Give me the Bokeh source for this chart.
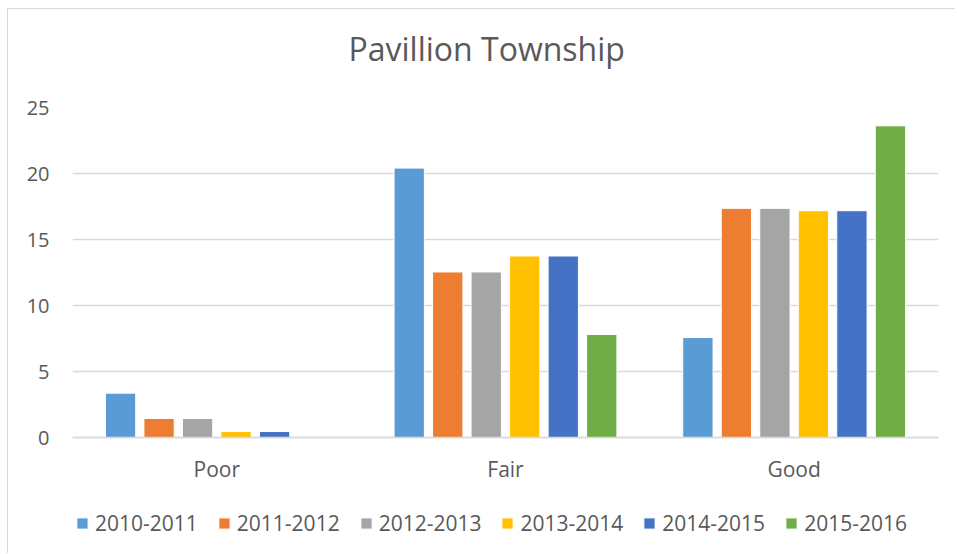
from bokeh.plotting import figure
from bokeh.models import FactorRange, Range1d, FixedTicker, Title
from bokeh.transform import dodge
from bokeh.embed import file_html
from bokeh.resources import INLINE

categories = ["Poor", "Fair", "Good"]
years = ["2010-2011", "2011-2012", "2012-2013", "2013-2014", "2014-2015", "2015-2016"]
s2010_2011 = [3.36, 20.41, 7.57]
s2011_2012 = [1.44, 12.54, 17.36]
s2012_2013 = [1.44, 12.54, 17.36]
s2013_2014 = [0.45, 13.75, 17.18]
s2014_2015 = [0.45, 13.75, 17.18]
s2015_2016 = [0.0, 7.80, 23.61]
y_ticks = [0, 5, 10, 15, 20, 25]

series = [s2010_2011, s2011_2012, s2012_2013, s2013_2014, s2014_2015, s2015_2016]
colors = ["#5B9BD5", "#ED7D31", "#A5A5A5", "#FFC000", "#4472C4", "#70AD47"]

FONT = "Open Sans"
TXT = "#595959"
GRID = "#D9D9D9"

data = {"cat": categories}
for y, s in zip(years, series):
    data[y] = s

# frame spans from the 25 gridline down to the canvas bottom; the value axis
# (0..25) occupies the upper 330 px, the lower part holds category labels + legend
PX_PER_UNIT = 330 / 25
BELOW_PX = 108

p = figure(
    x_range=FactorRange(*categories, range_padding=0),
    y_range=Range1d(-BELOW_PX / PX_PER_UNIT, 25),
    width=948, height=545,
    output_backend="svg", toolbar_location=None,
    min_border_left=64, min_border_right=18,
    min_border_top=98, min_border_bottom=9,
)
p.styles = {"margin-left": "7px", "margin-top": "8px",
            "border-left": "1px solid #D9D9D9", "border-top": "1px solid #D9D9D9"}
p.outline_line_color = None

pitch = 0.1334
for i, (y, c) in enumerate(zip(years, colors)):
    p.vbar(x=dodge("cat", (i - 2.5) * pitch, range=p.x_range), top=y, width=0.105,
           source=data, fill_color=c, line_color="white", line_width=1, legend_label=y)

spacer = Title(text=" ", text_font=FONT, text_font_size="16px", standoff=14)
p.add_layout(spacer, "above")
p.add_layout(Title(text="Pavillion Township", align="left", text_font=FONT,
                   text_font_size="32px", text_color=TXT, text_font_style="normal",
                   offset=276, standoff=0), "above")

p.yaxis.ticker = FixedTicker(ticks=y_ticks)
p.yaxis.axis_line_color = None
p.yaxis.major_tick_line_color = None
p.yaxis.minor_tick_line_color = None
p.yaxis.major_label_standoff = 17
p.yaxis.major_label_text_font = FONT
p.yaxis.major_label_text_font_size = "20px"
p.yaxis.major_label_text_color = TXT

p.xaxis.fixed_location = 0
p.xaxis.axis_line_color = GRID
p.xaxis.axis_line_width = 1.5
p.xaxis.major_tick_line_color = None
p.xaxis.minor_tick_line_color = None
p.xaxis.major_label_standoff = 11
p.xaxis.major_label_text_font = FONT
p.xaxis.major_label_text_font_size = "21px"
p.xaxis.major_label_text_color = TXT

p.xgrid.grid_line_color = None
p.ygrid.ticker = FixedTicker(ticks=y_ticks)
p.ygrid.grid_line_color = GRID
p.ygrid.grid_line_width = 1.5

lg = p.legend[0]
lg.orientation = "horizontal"
lg.location = (3, 8)
lg.padding = 0
lg.margin = 0
lg.spacing = 19
lg.glyph_width = 14
lg.glyph_height = 14
lg.label_standoff = 6
lg.border_line_color = None
lg.background_fill_alpha = 0
lg.label_text_font = FONT
lg.label_text_font_size = "21px"
lg.label_text_color = TXT

open("out.html", "w").write(file_html(p, INLINE))
